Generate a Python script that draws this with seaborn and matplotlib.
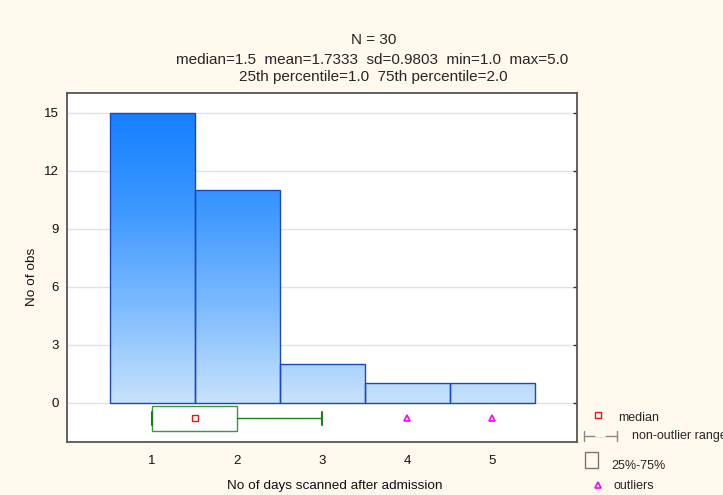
import numpy as np
import pandas as pd
import matplotlib
matplotlib.use("Agg")
import matplotlib.pyplot as plt
import seaborn as sns
from matplotlib.colors import LinearSegmentedColormap
from matplotlib.lines import Line2D
from matplotlib.patches import Rectangle

# ---- data ----
days = [1, 2, 3, 4, 5]
counts = [15, 11, 2, 1, 1]
yticks = [0, 3, 6, 9, 12, 15]
xticks = [1, 2, 3, 4, 5]
box_q1, box_med, box_q3 = 1.0, 1.5, 2.0
whisker_lo, whisker_hi = 1.0, 3.0
outliers = [4, 5]
title_lines = ["N = 30",
               "median=1.5  mean=1.7333  sd=0.9803  min=1.0  max=5.0",
               "25th percentile=1.0  75th percentile=2.0"]

sns.set_theme(style="white")
plt.rcParams['font.family'] = ['Liberation Sans', 'DejaVu Sans']

bg = "#FFF9EE"
fig = plt.figure(figsize=(7.23, 4.95), dpi=100, facecolor=bg)
ax = fig.add_axes([67/723, 1-442/495, 510/723, 349/495])
ax.set_facecolor("white")

df = pd.DataFrame({"days": days, "count": counts})
sns.histplot(data=df, x="days", weights="count", discrete=True, ax=ax,
             color="#4DA3FF", edgecolor="#1848C8", linewidth=1.0, alpha=1.0)

# gradient fill clipped to each bar
cmap = LinearSegmentedColormap.from_list("g", ["#C8E2FB", "#7DBBFF", "#3E98FF", "#1580FF"])
grad = np.linspace(0, 1, 256).reshape(-1, 1)
for p in list(ax.patches):
    im = ax.imshow(grad, cmap=cmap, origin="lower", aspect="auto",
                   extent=(0.5, 5.5, 0, max(counts)), zorder=p.get_zorder() - 0.1)
    im.set_clip_path(p)
    p.set_facecolor("none")
    p.set_zorder(3)
ax.set_xlim(0, 6)
ax.set_ylim(-2.03, 16.03)

# boxplot
ypos = -0.8
stats = [dict(med=box_med, q1=box_q1, q3=box_q3, whislo=whisker_lo,
              whishi=whisker_hi, fliers=outliers)]
ax.bxp(stats, positions=[ypos], widths=[1.3], vert=False, showfliers=True,
       manage_ticks=False, patch_artist=True,
       boxprops=dict(facecolor="white", edgecolor="#3A9A3A", linewidth=1.0),
       whiskerprops=dict(color="#1A801A", linewidth=1.0),
       capprops=dict(color="#1A801A", linewidth=1.5),
       medianprops=dict(linewidth=0),
       flierprops=dict(marker="^", markerfacecolor="none", markeredgecolor="#FF00FF",
                       markersize=5, markeredgewidth=1.2))
ax.plot([box_med], [ypos], marker="s", markerfacecolor="none", markeredgecolor="#EE1111",
        markersize=5, markeredgewidth=1.0, zorder=6)

ax.set_yticks(yticks)
ax.set_xticks(xticks)
ax.yaxis.grid(True, color="#E2E2E2", linewidth=1.0)
ax.set_axisbelow(True)
ax.tick_params(axis="both", which="both", direction="in", length=3, width=1,
               color="#333333", labelsize=9.5, top=True, right=True,
               labelcolor="#111111", pad=6)
ax.tick_params(axis="x", direction="out", length=3, top=False)
for s in ax.spines.values():
    s.set_color("#555555")
    s.set_linewidth(1.3)
    s.set_visible(True)

ax.set_xlabel("")
ax.set_ylabel("")
fig.text(335/723, 1-486/495, "No of days scanned after admission", ha="center",
         va="center", fontsize=9.7, color="#111111")
fig.text(32/723, 1-277/495, "No of obs", ha="center", va="center", rotation=90,
         fontsize=9.7, color="#111111")

fig.text(374/723, 1-40/495, title_lines[0], ha="center", va="center", fontsize=11)
fig.text(372/723, 1-60/495, title_lines[1], ha="center", va="center", fontsize=11)
fig.text(373/723, 1-77/495, title_lines[2], ha="center", va="center", fontsize=11)

# legend drawn outside the axes
def fx(x): return x/723
def fy(y): return 1-y/495
fig.add_artist(Line2D([fx(598)], [fy(415)], marker="s", markerfacecolor="none",
                      markeredgecolor="#EE1111", markersize=5, transform=fig.transFigure))
fig.text(fx(618), fy(418), "median", fontsize=9, va="center")
fig.add_artist(Line2D([fx(584), fx(617)], [fy(436), fy(436)], color="#888888", lw=1,
                      transform=fig.transFigure))
for xx in (584, 617):
    fig.add_artist(Line2D([fx(xx), fx(xx)], [fy(431), fy(441)], color="#888888", lw=1,
                          transform=fig.transFigure))
fig.add_artist(Line2D([fx(596), fx(605)], [fy(436), fy(436)], color=bg, lw=1.5,
                      transform=fig.transFigure))
fig.text(fx(632), fy(436), "non-outlier range", fontsize=9, va="center")
fig.add_artist(Rectangle((fx(585), fy(468)), fx(13), 16/495, facecolor="none",
                         edgecolor="#777777", lw=1, transform=fig.transFigure))
fig.text(fx(611), fy(466), "25%-75%", fontsize=9, va="center")
fig.add_artist(Line2D([fx(598)], [fy(485)], marker="^", markerfacecolor="none",
                      markeredgecolor="#FF00FF", markersize=5, markeredgewidth=1.2,
                      transform=fig.transFigure))
fig.text(fx(613), fy(486), "outliers", fontsize=9, va="center")

fig.savefig("out.png", dpi=100, facecolor=bg)
